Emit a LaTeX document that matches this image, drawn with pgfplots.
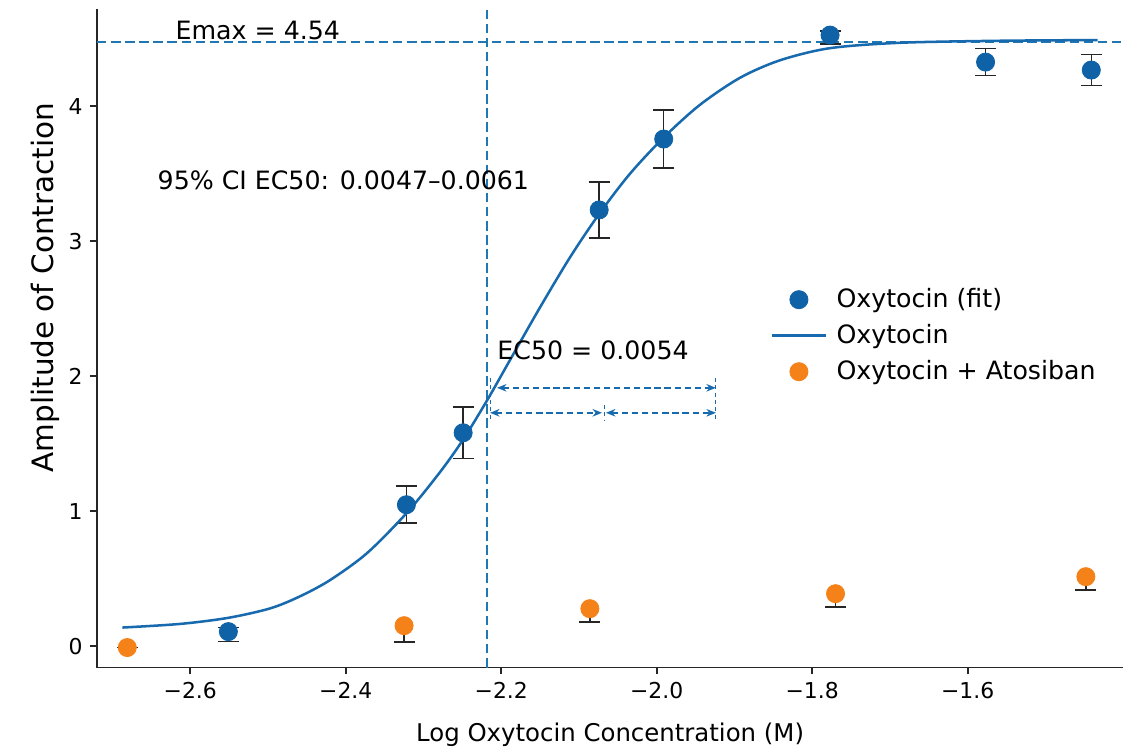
\documentclass[border=0pt]{standalone}
\usepackage{fontspec}
\setmainfont{DejaVu Sans}
\usepackage{pgfplots}
\usepackage{pgfplotstable}
\pgfplotsset{compat=1.18}
\usetikzlibrary{arrows.meta}
\definecolor{oxyblue}{RGB}{16,98,166}
\definecolor{lineblue}{RGB}{24,106,174}
\definecolor{dashblue}{RGB}{31,119,180}
\definecolor{atoorange}{RGB}{245,130,25}
\pgfplotsset{
  marklegend/.style={legend image code/.code={\draw[mark repeat=2,mark phase=2,##1] plot coordinates {(0cm,0cm) (0.45cm,0cm) (0.9cm,0cm)};}},
  linelegend/.style={legend image code/.code={\draw[##1] (0cm,0cm) -- (0.9cm,0cm);}},
  errstyle/.style={forget plot, only marks, mark=none,
    error bars/.cd, y dir=#1, y explicit,
    error bar style={draw=black!85, line width=0.7pt},
    error mark options={draw=black!85, rotate=90, mark size=5pt, line width=0.7pt}},
}

% blue series: x, y, upper error, lower error
\pgfplotstableread{
x y ep em
-2.551 0.108 0.03 0.074
-2.322 1.048 0.137 0.137
-2.249 1.581 0.19 0.19
-2.074 3.232 0.207 0.207
-1.991 3.757 0.215 0.215
-1.777 4.527 0.03 0.067
-1.577 4.327 0.10 0.10
-1.441 4.268 0.115 0.115
}\oxydata
% orange series: x, y, lower error (upper part hidden behind the marker)
\pgfplotstableread{
x y em
-2.681 -0.01 0
-2.325 0.152 0.12
-2.086 0.278 0.10
-1.770 0.389 0.10
-1.448 0.515 0.10
}\atodata

\begin{document}
\begin{tikzpicture}
\begin{axis}[
  scale only axis,
  width=487.8pt, height=313pt,
  xmin=-2.72, xmax=-1.40, ymin=-0.158, ymax=4.72,
  axis lines=left,
  axis line style={-, line width=0.8pt, black!85},
  tick align=outside, major tick length=3.3pt,
  tick style={line width=0.8pt, black!85},
  xtick={-2.6,-2.4,-2.2,-2.0,-1.8,-1.6},
  xticklabels={−2.6,−2.4,−2.2,−2.0,−1.8,−1.6},
  ytick={0,1,2,3,4},
  yticklabels={0,1,2,3,4},
  ticklabel style={font=\fontsize{10.4}{12}\selectfont},
  xlabel={Log Oxytocin Concentration (M)},
  ylabel={Amplitude of Contraction},
  xlabel style={font=\fontsize{11.6}{14}\selectfont},
  ylabel style={font=\fontsize{14}{16}\selectfont, at={(ticklabel cs:0.577)}},
  xlabel shift=5pt, ylabel shift=-2.5pt,
  legend cell align=left,
  legend style={at={(rel axis cs:0.65,0.589)}, anchor=north west, draw=none, fill=none,
    font=\fontsize{12}{14.4}\selectfont, row sep=2.5pt,
    nodes={inner xsep=4.5pt}},
]

% reference lines (Emax and EC50)
\addplot[forget plot, dashblue, line width=1pt, dash pattern=on 4.5pt off 2.2pt]
  coordinates {(-2.72,4.475) (-1.40,4.475)};
\addplot[forget plot, dashblue, line width=1pt, dash pattern=on 4.5pt off 2.2pt]
  coordinates {(-2.2183,-0.158) (-2.2183,4.72)};

% error bars
\addplot[errstyle=both] table[x=x, y=y, y error plus=ep, y error minus=em] {\oxydata};
\addplot[errstyle=minus] table[x=x, y=y, y error minus=em] {\atodata};

\addplot[only marks, mark=*, mark size=4.3pt, color=oxyblue, marklegend]
  table[x=x, y=y] {\oxydata};
\addlegendentry{Oxytocin (fit)}

\addplot[lineblue, line width=1.2pt, smooth, no markers, linelegend]
coordinates {
  (-2.6874,0.138) (-2.6129,0.165) (-2.5512,0.21) (-2.4972,0.28)
  (-2.4586,0.37) (-2.4201,0.49) (-2.3725,0.69) (-2.3211,0.99)
  (-2.2787,1.29) (-2.2491,1.53) (-2.2183,1.82) (-2.1887,2.12)
  (-2.1501,2.51) (-2.1116,2.88) (-2.0743,3.20) (-2.0344,3.50)
  (-1.9907,3.77) (-1.9445,4.01) (-1.8931,4.21) (-1.8416,4.34)
  (-1.7774,4.43) (-1.6874,4.47) (-1.5589,4.485) (-1.4329,4.49)
};
\addlegendentry{Oxytocin}

\addplot[only marks, mark=*, mark size=4.3pt, color=atoorange, marklegend]
  table[x=x, y=y] {\atodata};
\addlegendentry{Oxytocin + Atosiban}

% annotations
\node[anchor=west, font=\fontsize{12}{14.4}\selectfont, inner sep=0pt] at (axis cs:-2.6193,4.564) {Emax = 4.54};
\node[anchor=west, font=\fontsize{12}{14.4}\selectfont, inner sep=0pt] at (axis cs:-2.6424,3.454) {95\% CI EC50: 0.0047–0.0061};
\node[anchor=west, font=\fontsize{12}{14.4}\selectfont, inner sep=0pt] at (axis cs:-2.2054,2.195) {EC50 = 0.0054};

\draw[lineblue, line width=0.7pt, dash pattern=on 3pt off 1.8pt,
  {Stealth[length=4.5pt,width=3.6pt]}-{Stealth[length=4.5pt,width=3.6pt]}]
  (axis cs:-2.2054,1.914) -- (axis cs:-1.9239,1.914);
\draw[lineblue, line width=0.7pt, dash pattern=on 3pt off 1.8pt,
  {Stealth[length=4.5pt,width=3.6pt]}-{Stealth[length=4.5pt,width=3.6pt]}]
  (axis cs:-2.2144,1.729) -- (axis cs:-2.0704,1.729);
\draw[lineblue, line width=0.7pt, dash pattern=on 3pt off 1.8pt,
  {Stealth[length=4.5pt,width=3.6pt]}-{Stealth[length=4.5pt,width=3.6pt]}]
  (axis cs:-2.0653,1.729) -- (axis cs:-1.9239,1.729);
\draw[lineblue, line width=0.4pt, dash pattern=on 2pt off 1.5pt]
  (axis cs:-1.9239,1.988) -- (axis cs:-1.9239,1.677);
\draw[lineblue, line width=0.4pt, dash pattern=on 2pt off 1.5pt]
  (axis cs:-2.0679,1.788) -- (axis cs:-2.0679,1.677);
\draw[lineblue, line width=0.4pt, dash pattern=on 2pt off 1.5pt]
  (axis cs:-2.2144,1.988) -- (axis cs:-2.2144,1.677);
\end{axis}
\path ([shift={(-46.1pt,-39.4pt)}]current axis.south west) rectangle ([shift={(0pt,4.3pt)}]current axis.north east);
\end{tikzpicture}
\end{document}
